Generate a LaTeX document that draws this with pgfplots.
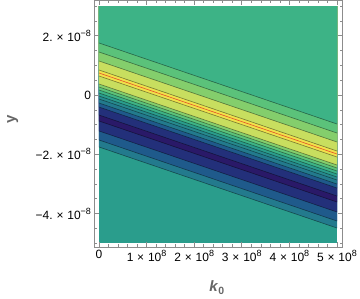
\documentclass[border=0pt]{standalone}
\usepackage{fontspec}
\setmainfont{Liberation Sans}
\usepackage{pgfplots}
\pgfplotsset{compat=1.18}
\definecolor{cY}{HTML}{F0E14B}
\definecolor{cYG}{HTML}{C8DE5F}
\definecolor{cG3}{HTML}{84CE6C}
\definecolor{cG2}{HTML}{5BC27A}
\definecolor{cG}{HTML}{3DB386}
\definecolor{cT}{HTML}{2A9D8C}
\definecolor{cTm}{HTML}{26898D}
\definecolor{cTB}{HTML}{237A8D}
\definecolor{cB}{HTML}{1F5A8B}
\definecolor{cN}{HTML}{23307A}
\definecolor{cP}{HTML}{2A1968}
\definecolor{framegray}{HTML}{8C8C8C}
\definecolor{labelgray}{HTML}{666666}
\definecolor{redline}{RGB}{228,80,40}
\newcommand{\sci}[2]{#1\hspace{3.8pt}×\hspace{3.8pt}10\raisebox{0.42em}{\fontsize{9}{9}\selectfont #2}}
\begin{document}
\begin{tikzpicture}
\begin{axis}[
  scale only axis, width=247.5pt, height=246.5pt,
  xmin=-0.0945, xmax=5.105, ymin=-5.126, ymax=3.187,
  axis on top,
  axis line style={color=framegray, line width=0.8pt},
  xtick={0,1,2,3,4,5},
  xticklabels={0, \sci{1}{8}, \sci{2}{8}, \sci{3}{8}, \sci{4}{8}, \sci{5}{8}},
  minor xtick={0.2,0.4,0.6,0.8,1.2,1.4,1.6,1.8,2.2,2.4,2.6,2.8,3.2,3.4,3.6,3.8,4.2,4.4,4.6,4.8},
  ytick={-4,-2,0,2},
  yticklabels={\sci{−4.}{−8}, \sci{−2.}{−8}, 0, \sci{2.}{−8}},
  minor ytick={-5,-4.5,-3.5,-3,-2.5,-1.5,-1,-0.5,0.5,1,1.5,2.5,3},
  tick align=inside,
  major tick length=4.5pt, minor tick length=2.5pt,
  every tick/.style={color=framegray, line width=0.6pt},
  tick label style={font=\fontsize{12}{14}\selectfont, text=black},
  xlabel={\textit{k}\textsubscript{0}},
  ylabel={y},
  label style={font=\fontsize{15}{17}\selectfont\bfseries, text=labelgray},
  xlabel style={at={(axis description cs:0.495,-0.165)}, anchor=center},
  ylabel style={at={(axis description cs:-0.33,0.517)}, anchor=center},
  lc/.style={black, opacity=0.45, line width=0.6pt},
]
% background (lowest region)
\addplot[fill=cT, draw=none] coordinates {(0,-5) (5,-5) (5,3) (0,3)};
% bands: region above each contour line, bottom to top
\addplot[fill=cTB, draw=none] coordinates {(0,-1.754) (5,-4.486) (5,3) (0,3)};
\addplot[fill=cB, draw=none] coordinates {(0,-1.518) (5,-4.250) (5,3) (0,3)};
\addplot[fill=cN, draw=none] coordinates {(0,-1.214) (5,-3.946) (5,3) (0,3)};
\addplot[fill=cP, draw=none] coordinates {(0,-0.877) (5,-3.609) (5,3) (0,3)};
\addplot[fill=cN, draw=none] coordinates {(0,-0.675) (5,-3.407) (5,3) (0,3)};
\addplot[fill=cB, draw=none] coordinates {(0,-0.405) (5,-3.137) (5,3) (0,3)};
\addplot[fill=cTB, draw=none] coordinates {(0,-0.270) (5,-3.002) (5,3) (0,3)};
\addplot[fill=cTm, draw=none] coordinates {(0,-0.135) (5,-2.867) (5,3) (0,3)};
\addplot[fill=cT, draw=none] coordinates {(0,-0.034) (5,-2.766) (5,3) (0,3)};
\addplot[fill=cG, draw=none] coordinates {(0,0.067) (5,-2.665) (5,3) (0,3)};
\addplot[fill=cG2, draw=none] coordinates {(0,0.169) (5,-2.563) (5,3) (0,3)};
\addplot[fill=cG3, draw=none] coordinates {(0,0.270) (5,-2.462) (5,3) (0,3)};
\addplot[fill=cYG, draw=none] coordinates {(0,0.371) (5,-2.361) (5,3) (0,3)};
\addplot[fill=cY, draw=none] coordinates {(0,0.641) (5,-2.091) (5,3) (0,3)};
\addplot[fill=cYG, draw=none] coordinates {(0,0.843) (5,-1.889) (5,3) (0,3)};
\addplot[fill=cG3, draw=none] coordinates {(0,1.147) (5,-1.585) (5,3) (0,3)};
\addplot[fill=cG2, draw=none] coordinates {(0,1.450) (5,-1.282) (5,3) (0,3)};
\addplot[fill=cG, draw=none] coordinates {(0,1.754) (5,-0.978) (5,3) (0,3)};
% contour lines
\addplot[lc] coordinates {(0,-1.754) (5,-4.486)};
\addplot[lc] coordinates {(0,-1.518) (5,-4.250)};
\addplot[lc] coordinates {(0,-1.214) (5,-3.946)};
\addplot[lc] coordinates {(0,-0.877) (5,-3.609)};
\addplot[lc] coordinates {(0,-0.675) (5,-3.407)};
\addplot[lc] coordinates {(0,-0.405) (5,-3.137)};
\addplot[lc] coordinates {(0,-0.270) (5,-3.002)};
\addplot[lc] coordinates {(0,-0.135) (5,-2.867)};
\addplot[lc] coordinates {(0,-0.034) (5,-2.766)};
\addplot[lc] coordinates {(0,0.067) (5,-2.665)};
\addplot[lc] coordinates {(0,0.169) (5,-2.563)};
\addplot[lc] coordinates {(0,0.270) (5,-2.462)};
\addplot[lc] coordinates {(0,0.371) (5,-2.361)};
\addplot[lc] coordinates {(0,0.641) (5,-2.091)};
\addplot[lc] coordinates {(0,0.843) (5,-1.889)};
\addplot[lc] coordinates {(0,1.147) (5,-1.585)};
\addplot[lc] coordinates {(0,1.450) (5,-1.282)};
\addplot[lc] coordinates {(0,1.754) (5,-0.978)};
% red contour
\addplot[redline, line width=0.6pt] coordinates {(0,0.742) (5,-1.990)};
\end{axis}
\pgfresetboundingbox
\path[use as bounding box] (current axis.south west) ++(-94.5pt,-52pt) rectangle ++(360pt,299pt);
\end{tikzpicture}
\end{document}
